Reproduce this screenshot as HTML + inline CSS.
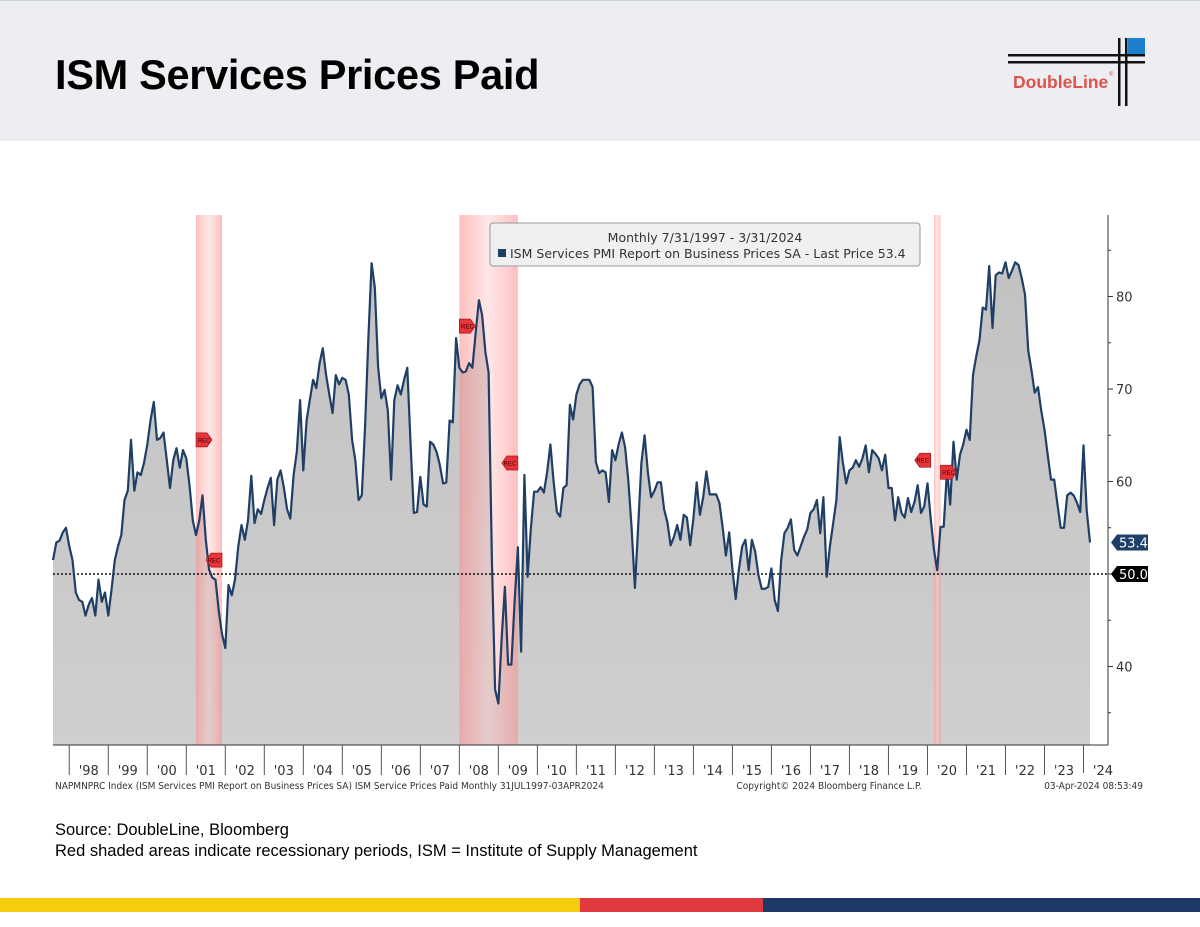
<!DOCTYPE html>
<html><head><meta charset="utf-8">
<style>
html,body{margin:0;padding:0;background:#fff;}
body{width:1200px;height:927px;position:relative;overflow:hidden;font-family:"Liberation Sans",sans-serif;}
#header{position:absolute;left:0;top:0;width:1200px;height:140px;background:#eceef2;border-top:1px solid #d0d3d8;}
#title{position:absolute;left:55px;top:50px;font-size:41.5px;font-weight:bold;color:#000;letter-spacing:-0.3px;}
#source{position:absolute;left:55px;top:820px;font-size:16.5px;color:#000;line-height:21px;}
.stripe{position:absolute;top:898px;height:14px;}
</style></head>
<body>
<div id="header">
  <div id="title">ISM Services Prices Paid</div>
  <svg style="position:absolute;left:1005px;top:35px" width="150" height="75">
    <rect x="123" y="2" width="17" height="17" fill="#1e7fcf"/>
    <rect x="3" y="18" width="137" height="2.5" fill="#111"/>
    <rect x="3" y="25" width="137" height="2.5" fill="#111"/>
    <rect x="113" y="2" width="2.5" height="68" fill="#111"/>
    <rect x="120" y="2" width="2.5" height="68" fill="#111"/>
    <text x="8" y="52" font-family="Liberation Sans, sans-serif" font-weight="bold" font-size="17.5" fill="#e0524a">DoubleLine</text>
    <text x="104" y="40" font-size="6" fill="#e0524a">®</text>
  </svg>
</div>

<svg id="chart" style="position:absolute;left:0;top:0" width="1200" height="800"></svg>

<div id="source">Source: DoubleLine, Bloomberg<br>Red shaded areas indicate recessionary periods, ISM = Institute of Supply Management</div>
<div class="stripe" style="left:0;width:580px;background:#f7cc0e"></div>
<div class="stripe" style="left:580px;width:183px;background:#e0393f"></div>
<div class="stripe" style="left:763px;width:437px;background:#1d3a66"></div>

<script>
// Monthly values starting Jul 1997
const values = [51.5,53.4,53.6,54.5,55,53,51.5,48,47.2,47,45.5,46.7,47.4,45.5,49.4,47,48,45.5,48.3,51.5,53,54.2,58,59,64.5,59,61,60.7,62,64,66.6,68.6,64.5,64.7,65.3,62.3,59.3,62.3,63.6,61.5,63.4,62.5,59.6,55.8,54.2,55.8,58.5,53.7,50.5,49.6,49.4,46,43.5,42,48.8,47.7,49.4,53,55.3,53.7,55.8,60.6,55.5,57,56.5,58,59.3,60.4,55.3,60.2,61.2,59.4,57,56,60.7,63.2,68.8,61.2,66.6,68.8,71,70.1,72.8,74.4,71.5,69.4,67.4,71.5,70.5,71.2,71,69.4,64.5,62.3,58,58.5,66,75.3,83.6,81,72.4,69,69.9,67.7,60.2,68.8,70.4,69.4,71,72.3,64,56.6,56.7,60.5,57.5,57.3,64.3,64,63.2,61.8,59.8,59.9,66.6,66.4,75.5,72.3,71.8,71.9,72.8,72.3,76,79.6,78,74,71.8,51.5,37.5,36,42.9,48.6,40.2,40.2,47,52.9,41.6,60.7,49.7,55,58.9,58.9,59.4,58.8,61,64,60,56.7,56.2,59.3,59.6,68.3,66.7,69.4,70.5,71,71,71,70.2,62.1,60.9,61.2,61,57.8,63.4,62.3,64,65.3,63.7,60,55,48.5,55,62,65,61,58.3,59,59.9,59.9,57,55.6,53.1,54,55.3,53.7,56.4,56.1,53.1,56,59.9,56.4,58.3,61.1,58.6,58.6,58.6,57.7,55,52,54.5,50.5,47.3,50.5,53,53.7,50.4,53.7,52.4,49.9,48.4,48.4,48.6,50.6,47.2,46,51.5,54.4,55,55.9,52.6,52,53,54,54.8,56.6,57,58,54.4,58.3,49.7,53,55.5,58,64.8,62,59.8,61.2,61.5,62.3,61.6,62.5,63.9,61,63.4,63,62.5,61.2,62.9,59.3,59.3,55.8,58.3,56.6,56.1,58.2,56.7,57.8,59.6,56.6,57.3,59.8,56,52.6,50.4,55.1,55.1,61.2,57.5,64.3,60.2,62.9,64,65.6,64.5,71.5,73.5,75.3,78.8,78.6,83.3,76.6,82.3,82.6,82.5,83.7,82,82.8,83.7,83.4,82,80.2,74.2,72,69.6,70.2,67.7,65.6,62.9,60.2,60.2,57.5,55,55,58.5,58.8,58.5,57.7,56.7,63.9,56.9,53.4];
const yearLabels = ["'98","'99","'00","'01","'02","'03","'04","'05","'06","'07","'08","'09","'10","'11","'12","'13","'14","'15","'16","'17","'18","'19","'20","'21","'22","'23","'24"];
const yTicks = [40,50,60,70,80];
// recessions as [startMonthIndex, endMonthIndex] from Jul 1997
const recessions = [[44,52],[125,143],[271,273]];
const recTags = [[44,64.5,1],[52,51.5,-1],[125,76.8,1],[143,62,-1],[270,62.3,-1],[273,61,1]];
const lastPrice = 53.4;

const NS='http://www.w3.org/2000/svg';
const svg=document.getElementById('chart');
const X0=53, X1=1090, PR=1108, PT=215, PB=745;
const n=values.length;
const xs=i=>X0+(i)*(X1-X0)/(n-1);
const ys=v=>574-(v-50)*9.25;
function mk(tag,attrs,parent){const e=document.createElementNS(NS,tag);for(const k in attrs)e.setAttribute(k,attrs[k]);(parent||svg).appendChild(e);return e;}

const defs=mk('defs',{});
const g1=mk('linearGradient',{id:'fillg',x1:0,y1:0,x2:0,y2:1},defs);
mk('stop',{offset:'0','stop-color':'#c2c2c2'},g1);mk('stop',{offset:'1','stop-color':'#cfcfcf'},g1);
const g2=mk('linearGradient',{id:'recg',x1:0,y1:0,x2:1,y2:0},defs);
mk('stop',{offset:'0','stop-color':'#ff8a8a','stop-opacity':0.55},g2);
mk('stop',{offset:'0.5','stop-color':'#ffc8c8','stop-opacity':0.45},g2);
mk('stop',{offset:'1','stop-color':'#ff8a8a','stop-opacity':0.55},g2);

let d='M'+xs(0)+','+PB;
values.forEach((v,i)=>{d+=' L'+xs(i).toFixed(1)+','+ys(v).toFixed(1);});
d+=' L'+xs(n-1)+','+PB+' Z';
const area=mk('path',{d:d,fill:'url(#fillg)'});



recessions.forEach(r=>{
  const x=xs(r[0]), w=Math.max(xs(r[1])-xs(r[0]),6);
  const b=mk('rect',{x:x,y:PT,width:w,height:PB-PT,fill:'url(#recg)'});
  
  
});

const ref=mk('line',{x1:X0,x2:PR,y1:ys(50),y2:ys(50),stroke:'#111','stroke-width':1.5,'stroke-dasharray':'2,2'});



let ld='';
values.forEach((v,i)=>{ld+=(i?' L':'M')+xs(i).toFixed(1)+','+ys(v).toFixed(1);});
const line=mk('path',{d:ld,fill:'none',stroke:'#1f3f66','stroke-width':2.2,'stroke-linejoin':'round'});



recTags.forEach(t=>{
  const x=xs(t[0]), y=ys(t[1]), dir=t[2];
  const g=mk('g',{});
  
  
  const pts = dir>0 ? [[x,y-7],[x+11,y-7],[x+16,y],[x+11,y+7],[x,y+7]] : [[x,y-7],[x-11,y-7],[x-16,y],[x-11,y+7],[x,y+7]];
  mk('polygon',{points:pts.map(p=>p.join(',')).join(' '),fill:'#e8333a',stroke:'#a01a1a','stroke-width':0.7},g);
  const tx=mk('text',{x:x+dir*8,y:y+2.5,'font-size':6,'text-anchor':'middle',fill:'#400','font-family':'Liberation Sans, sans-serif'},g);
  tx.textContent='REC';
});

const ax=mk('line',{x1:X0,x2:PR,y1:PB,y2:PB,stroke:'#333','stroke-width':1});


const ay=mk('line',{x1:PR,x2:PR,y1:PT,y2:PB,stroke:'#333','stroke-width':1});


for(let v=35;v<=85;v+=5){
  const t=mk('line',{x1:PR,x2:PR+(v%10===0?5:3),y1:ys(v),y2:ys(v),stroke:'#333'});
  
  
}
yTicks.forEach(v=>{
  if(v===50) return;
  const t=mk('text',{x:PR+8,y:ys(v)+5,'font-size':13,fill:'#333','font-family':'DejaVu Sans, sans-serif'});
  
  
  t.textContent=v;
});
yearLabels.forEach((lab,k)=>{
  const xt=xs(5+12*k);
  const tk=mk('line',{x1:xt,x2:xt,y1:PB,y2:PB+(k===yearLabels.length-1?28:30),stroke:'#555'});
  
  
  const t=mk('text',{x:xt+19.5,y:PB+30,'font-size':13,fill:'#333','text-anchor':'middle','font-family':'DejaVu Sans, sans-serif'});
  
  
  t.textContent=lab;
});

function tag(val,label,color,name){
  const y=ys(val), x=PR+3;
  const g=mk('g',{});
  
  
  mk('polygon',{points:`${x},${y} ${x+6},${y-8} ${x+37},${y-8} ${x+37},${y+8} ${x+6},${y+8}`,fill:color},g);
  const t=mk('text',{x:x+8,y:y+5,'font-size':13,fill:'#fff','font-family':'DejaVu Sans, sans-serif'},g);
  t.textContent=label;
}
tag(lastPrice,lastPrice.toFixed(1),'#1f3f66','last-price-tag');
tag(50,'50.0','#000','reference-tag-50');

const lg=mk('g',{});


mk('rect',{x:490,y:223,width:430,height:43,rx:3,fill:'#f0f0f0',stroke:'#999'},lg);
const l1=mk('text',{x:705,y:242,'font-size':12.5,fill:'#333','text-anchor':'middle','font-family':'DejaVu Sans, sans-serif'},lg);
l1.textContent='Monthly 7/31/1997 - 3/31/2024';
mk('rect',{x:498,y:249,width:8,height:8,fill:'#1f3f66'},lg);
const l2=mk('text',{x:510,y:258,'font-size':12.5,fill:'#333','font-family':'DejaVu Sans, sans-serif'},lg);
l2.textContent='ISM Services PMI Report on Business Prices SA - Last Price 53.4';

function foot(x,txt,anchor,name){
  const t=mk('text',{x:x,y:789,'font-size':10,fill:'#333','text-anchor':anchor,'font-family':'DejaVu Sans Condensed, DejaVu Sans, sans-serif'});
  
  
  t.textContent=txt;
}
foot(55,'NAPMNPRC Index (ISM Services PMI Report on Business Prices SA) ISM Service Prices Paid  Monthly 31JUL1997-03APR2024','start','footnote-index');
foot(829,'Copyright© 2024 Bloomberg Finance L.P.','middle','footnote-copyright');
foot(1143,'03-Apr-2024 08:53:49','end','footnote-timestamp');
</script>
</body></html>
